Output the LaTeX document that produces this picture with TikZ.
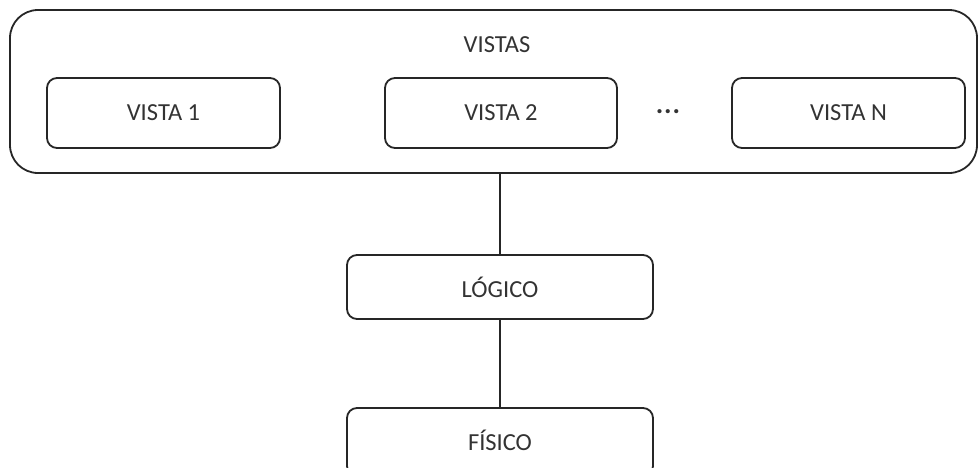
\documentclass[tikz,border=0pt]{standalone}
\usepackage{fontspec}
\setmainfont{Carlito}
\begin{document}
\begin{tikzpicture}[x=1pt,y=-1pt,
  box/.style={draw=black!85, line width=1.8pt, rounded corners=10pt},
  outer/.style={draw=black!85, line width=1.8pt, rounded corners=28pt},
  lbl/.style={font=\fontsize{24.5}{27}\selectfont, text=black!80},
  conn/.style={draw=black!85, line width=1.8pt}]
\useasboundingbox (0,0) rectangle (980,467);
\begin{scope}
\clip (0,0) rectangle (980,467);
\draw[outer] (10,10) rectangle (977,173);
\node[lbl] (vistas) at (497,45) {VISTAS};
\draw[box] (47,78) rectangle (280,148);
\node[lbl] (v1) at (163.5,113) {VISTA 1};
\draw[box] (385,78) rectangle (617,148);
\node[lbl] (v2) at (501,113) {VISTA 2};
\node[lbl, font=\fontsize{28}{30}\selectfont\bfseries] (dots) at (668,112) {.\kern1pt.\kern1pt.};
\draw[box] (732,78) rectangle (965,148);
\node[lbl] (vn) at (848.5,113) {VISTA N};
\coordinate (otop) at (500,173);
\draw[box] (347,255) rectangle (653,319);
\node[lbl] (log) at (500,287) {LÓGICO};
\coordinate (logt) at (500,255);
\coordinate (logb) at (500,319);
\draw[box] (347,408) rectangle (653,476);
\node[lbl] (fis) at (500,440) {FÍSICO};
\coordinate (fist) at (500,408);
\draw[conn] (otop) -- (logt);
\draw[conn] (logb) -- (fist);
\end{scope}
\end{tikzpicture}
\end{document}
